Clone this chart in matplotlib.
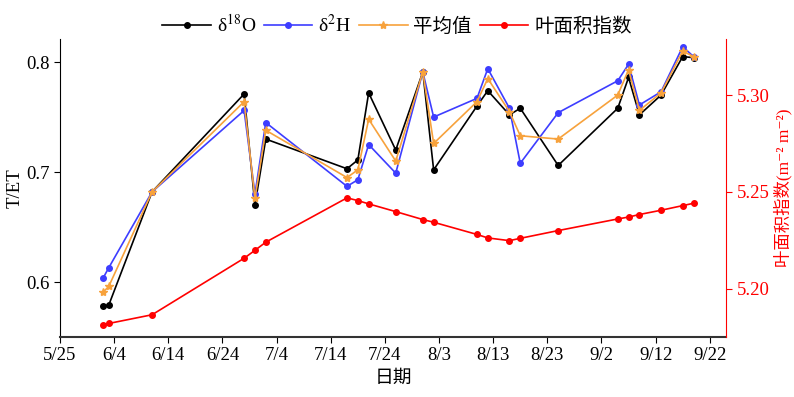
import matplotlib
matplotlib.use('Agg')
import matplotlib.pyplot as plt
import numpy as np
from datetime import datetime

plt.rcParams['font.family'] = ['Liberation Serif', 'Noto Sans CJK SC', 'DejaVu Serif']
plt.rcParams['mathtext.fontset'] = 'stix'

# sampling dates (year is arbitrary)
dates = ['6/2', '6/3', '6/11', '6/28', '6/30', '7/2', '7/17', '7/19', '7/21',
         '7/26', '7/31', '8/2', '8/10', '8/12', '8/16', '8/18', '8/25',
         '9/5', '9/7', '9/9', '9/13', '9/17', '9/19']

te_o18 = [0.578, 0.579, 0.682, 0.771, 0.670, 0.730, 0.703, 0.711, 0.772,
          0.720, 0.791, 0.702, 0.760, 0.774, 0.752, 0.758, 0.706,
          0.758, 0.786, 0.752, 0.770, 0.805, 0.804]
te_h2 = [0.604, 0.613, 0.682, 0.756, 0.680, 0.745, 0.687, 0.693, 0.725,
         0.699, 0.791, 0.750, 0.767, 0.794, 0.758, 0.708, 0.754,
         0.783, 0.798, 0.761, 0.773, 0.814, 0.805]
te_mean = [0.591, 0.596, 0.682, 0.764, 0.676, 0.738, 0.695, 0.702, 0.748,
           0.710, 0.791, 0.726, 0.764, 0.785, 0.755, 0.733, 0.730,
           0.770, 0.793, 0.756, 0.772, 0.810, 0.805]
lai = [5.181, 5.182, 5.1865, 5.2157, 5.2198, 5.224, 5.2469, 5.2455, 5.2438,
       5.2398, 5.2357, 5.2343, 5.228, 5.2262, 5.2248, 5.226, 5.230,
       5.236, 5.237, 5.2383, 5.2405, 5.2429, 5.2441]

x_ticks = ['5/25', '6/4', '6/14', '6/24', '7/4', '7/14', '7/24',
           '8/3', '8/13', '8/23', '9/2', '9/12', '9/22']


def to_date(s):
    return datetime.strptime('2019/' + s, '%Y/%m/%d')


xs = [to_date(d) for d in dates]

fig = plt.figure(figsize=(7.94, 3.97), dpi=100)
ax = fig.add_axes([0.0756, 0.1511, 0.8388, 0.7507])
ax2 = ax.twinx()

l1, = ax.plot(xs, te_o18, 'o-', color='black', lw=1.2, ms=4)
l2, = ax.plot(xs, te_h2, 'o-', color='#3d3dff', lw=1.2, ms=4)
l3, = ax.plot(xs, te_mean, '*-', color='#f7a23c', lw=1.2, ms=6)
l4, = ax2.plot(xs, lai, 'o-', color='red', lw=1.2, ms=4)

ax.set_xlim(to_date('5/25'), to_date('9/25'))
ax.set_xticks([to_date(t) for t in x_ticks])
ax.set_xticklabels(x_ticks)
ax.set_ylim(0.55, 0.821)
ax.set_yticks([0.6, 0.7, 0.8])
ax2.set_ylim(5.175, 5.329)
ax2.set_yticks([5.20, 5.25, 5.30])
ax2.set_yticklabels(['5.20', '5.25', '5.30'])

ax.tick_params(labelsize=13.5, length=4, direction='out')
ax2.tick_params(labelsize=13.5, length=4, colors='red')

ax.spines['top'].set_visible(False)
ax2.spines['top'].set_visible(False)
ax2.spines['left'].set_visible(False)
ax2.spines['bottom'].set_visible(False)
ax2.spines['right'].set_color('red')
ax.spines['right'].set_visible(False)
ax.spines['bottom'].set_color('#333333')
ax.spines['bottom'].set_linewidth(1.5)

ax.set_ylabel('T/ET', fontsize=13.5, labelpad=2)
ax.set_xlabel('日期', fontsize=13.5)
ax2.set_ylabel('叶面积指数(m\u207b\u00b2 m\u207b\u00b2)', fontsize=12.5,
               color='red', labelpad=3)

fig.legend([l1, l2, l3, l4],
           ['δ$^{18}$O', 'δ$^{2}$H', '平均值', '叶面积指数'],
           loc='upper center', bbox_to_anchor=(0.5, 1.01), ncol=4,
           frameon=False, fontsize=14, handlelength=2.5,
           columnspacing=0.4, handletextpad=0.3)

fig.savefig('out.png', dpi=100)
